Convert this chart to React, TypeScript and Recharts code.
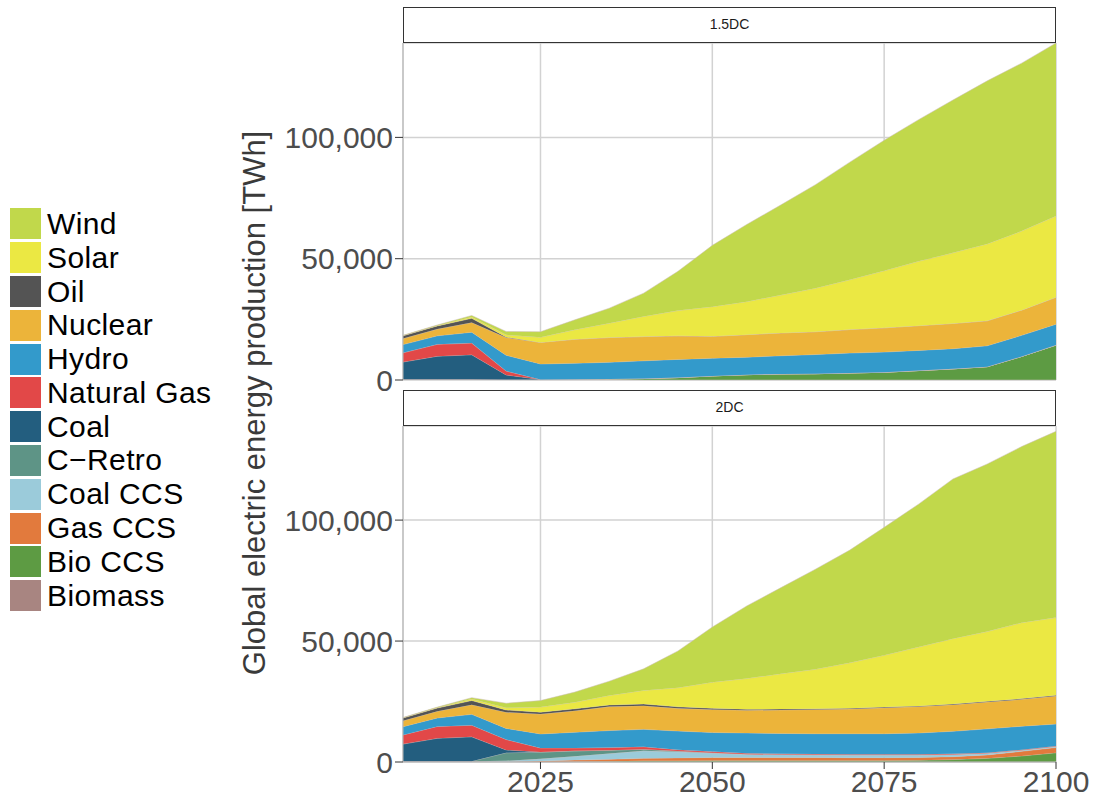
import { AreaChart, Area, XAxis, YAxis, CartesianGrid } from 'recharts'

// Global electricity generation by source, TWh, two climate scenarios
const years = [2005, 2010, 2015, 2020, 2025, 2030, 2035, 2040, 2045, 2050, 2055, 2060, 2065, 2070, 2075, 2080, 2085, 2090, 2095, 2100]
const yearTicks = [2025, 2050, 2075, 2100]
const valueTicks = [0, 50000, 100000]

// 1.5DC scenario
const biomass15 = [300, 300, 300, 200, 100, 100, 100, 100, 100, 100, 100, 100, 100, 100, 100, 100, 100, 100, 100, 100]
const bioCcs15 = [0, 0, 0, 0, 100, 200, 300, 500, 900, 1600, 2100, 2400, 2500, 2800, 3100, 3800, 4500, 5400, 9600, 14300]
const gasCcs15 = [0, 0, 0, 0, 0, 0, 0, 0, 0, 0, 0, 0, 0, 0, 0, 0, 0, 0, 0, 0]
const coalCcs15 = [0, 0, 0, 0, 0, 0, 0, 0, 0, 0, 0, 0, 0, 0, 0, 0, 0, 0, 0, 0]
const cRetro15 = [0, 0, 0, 0, 0, 0, 0, 0, 0, 0, 0, 0, 0, 0, 0, 0, 0, 0, 0, 0]
const coal15 = [7100, 9500, 10100, 1900, 0, 0, 0, 0, 0, 0, 0, 0, 0, 0, 0, 0, 0, 0, 0, 0]
const gas15 = [3800, 4900, 4800, 1600, 0, 0, 0, 0, 0, 0, 0, 0, 0, 0, 0, 0, 0, 0, 0, 0]
const hydro15 = [3400, 3500, 4500, 6500, 6400, 6600, 6900, 7300, 7500, 7300, 7200, 7500, 7900, 8200, 8300, 8300, 8300, 8600, 8700, 8600]
const nuclear15 = [2500, 2800, 4000, 7300, 8900, 9900, 10200, 10000, 9700, 9000, 9300, 9400, 9400, 9700, 10000, 10200, 10400, 10300, 10400, 11100]
const oil15 = [1100, 1300, 1700, 200, 0, 0, 0, 0, 0, 0, 0, 0, 0, 0, 0, 0, 0, 0, 0, 0]
const solar15 = [100, 200, 600, 900, 2100, 3900, 5900, 8300, 10400, 12200, 13600, 15600, 17900, 20500, 23500, 26500, 29100, 31700, 32600, 33500]
const wind15 = [100, 200, 600, 1400, 2300, 4100, 6200, 9600, 16200, 25300, 31800, 37200, 42700, 48500, 53800, 58400, 63000, 67200, 69200, 71300]

// 2DC scenario
const biomass2 = [300, 300, 300, 200, 100, 100, 100, 100, 100, 100, 100, 100, 100, 100, 100, 100, 100, 100, 100, 100]
const bioCcs2 = [0, 0, 0, 0, 0, 100, 200, 400, 400, 500, 500, 500, 500, 500, 500, 600, 900, 1400, 2400, 3700]
const gasCcs2 = [0, 0, 0, 0, 300, 600, 800, 1000, 1200, 1300, 1300, 1300, 1300, 1200, 1200, 1200, 1200, 1400, 1900, 2200]
const coalCcs2 = [0, 0, 0, 300, 900, 1600, 2400, 3100, 2500, 1800, 1300, 1200, 1100, 1100, 1100, 1000, 900, 700, 500, 400]
const cRetro2 = [0, 0, 0, 3300, 2800, 2200, 1400, 700, 300, 100, 0, 0, 0, 0, 0, 0, 0, 0, 0, 0]
const coal2 = [7100, 9500, 10100, 1200, 0, 0, 0, 0, 0, 0, 0, 0, 0, 0, 0, 0, 0, 0, 0, 0]
const gas2 = [3800, 4900, 4800, 4300, 1700, 1200, 1100, 1000, 600, 500, 400, 300, 300, 300, 300, 300, 300, 200, 200, 200]
const hydro2 = [3400, 3500, 4500, 4600, 5800, 6500, 7000, 7200, 7700, 7900, 8400, 8400, 8400, 8500, 8500, 8800, 9300, 9900, 9700, 9100]
const nuclear2 = [2500, 2800, 4000, 6700, 8200, 8900, 9900, 9800, 9400, 9500, 9400, 9700, 10000, 10200, 10700, 10900, 11000, 11100, 11100, 11600]
const oil2 = [1100, 1300, 1700, 900, 800, 800, 700, 700, 600, 500, 400, 400, 300, 300, 300, 300, 300, 300, 300, 300]
const solar2 = [100, 200, 600, 900, 2100, 2700, 3900, 5600, 7900, 10800, 12700, 14600, 16300, 18800, 21400, 24300, 27000, 28800, 31400, 32100]
const wind2 = [100, 200, 600, 1900, 2700, 4200, 5900, 8900, 15200, 22800, 30000, 35600, 41400, 46600, 52900, 59100, 66000, 69300, 72800, 77000]

// stacking order, bottom first
const sources = [
  { key: 'Biomass', color: '#A88581' },
  { key: 'Bio CCS', color: '#5D9B43' },
  { key: 'Gas CCS', color: '#E27A3D' },
  { key: 'Coal CCS', color: '#9BCBDA' },
  { key: 'C\u2212Retro', color: '#5E9486' },
  { key: 'Coal', color: '#235E7F' },
  { key: 'Natural Gas', color: '#E24848' },
  { key: 'Hydro', color: '#339ACB' },
  { key: 'Nuclear', color: '#ECB43A' },
  { key: 'Oil', color: '#545454' },
  { key: 'Solar', color: '#EBE843' },
  { key: 'Wind', color: '#C1D84B' },
]

function buildRows(series: number[][]) {
  return years.map((year, i) => {
    const row: Record<string, number> = { year }
    sources.forEach((s, j) => {
      row[s.key] = series[j][i]
    })
    return row
  })
}

const data15 = buildRows([biomass15, bioCcs15, gasCcs15, coalCcs15, cRetro15, coal15, gas15, hydro15, nuclear15, oil15, solar15, wind15])
const data2 = buildRows([biomass2, bioCcs2, gasCcs2, coalCcs2, cRetro2, coal2, gas2, hydro2, nuclear2, oil2, solar2, wind2])

const totals = [...data15, ...data2].map((r) => sources.reduce((sum, s) => sum + r[s.key], 0))
const yMax = Math.max(...totals)

const font = '"Liberation Sans", Arial, Helvetica, sans-serif'
const axisGray = '#4d4d4d'

// plotTop/plotBottom are measured inside the chart's own svg
function Panel({ data, showX, height, top, bottomPad }: { data: Record<string, number>[]; showX: boolean; height: number; top: number; bottomPad: number }) {
  return (
    <div style={{ position: 'absolute', left: 0, top }}>
      <AreaChart width={1093} height={height} data={data} margin={{ top: 43, right: 37, bottom: bottomPad, left: 303 }}>
        <CartesianGrid stroke="#d2d2d2" strokeWidth={1.5} />
        <XAxis
          dataKey="year"
          type="number"
          domain={[2005, 2100]}
          ticks={yearTicks}
          height={showX ? 40 : 0}
          tick={showX ? { fontSize: 30, fill: axisGray } : { fontSize: 1, fill: 'none' }}
          tickSize={showX ? 7 : 0}
          tickLine={showX ? { stroke: '#333' } : false}
          axisLine={showX ? { stroke: '#b5b5b5' } : false}
        />
        <YAxis
          type="number"
          domain={[0, yMax]}
          ticks={valueTicks}
          width={100}
          tickSize={8}
          tick={{ fontSize: 30, fill: axisGray }}
          tickLine={{ stroke: '#333' }}
          axisLine={{ stroke: '#b5b5b5' }}
          tickFormatter={(v: number) => v.toLocaleString('en-US')}
        />
        {sources.map((s) => (
          <Area
            key={s.key}
            type="linear"
            dataKey={s.key}
            stackId="1"
            fill={s.color}
            fillOpacity={1}
            stroke="#cdbdbb"
            strokeWidth={0.5}
            dot={false}
            activeDot={false}
            isAnimationActive={false}
          />
        ))}
      </AreaChart>
    </div>
  )
}

function Strip({ label, top }: { label: string; top: number }) {
  return (
    <div
      style={{
        position: 'absolute',
        left: 403,
        top,
        width: 653,
        height: 36,
        boxSizing: 'border-box',
        border: '1.5px solid #333',
        background: '#fff',
        fontSize: 14,
        lineHeight: '33px',
        textAlign: 'center',
        color: '#1a1a1a',
      }}
    >
      {label}
    </div>
  )
}

export default function App() {
  const legendItems = [...sources].reverse()
  return (
    <div style={{ position: 'absolute', left: 0, top: 0, width: 1093, height: 802, background: '#fff', fontFamily: font }}>
      <Panel data={data15} showX={false} height={400} top={0} bottomPad={20} />
      <Panel data={data2} showX={true} height={419} top={383} bottomPad={0} />
      <Strip label="1.5DC" top={7} />
      <Strip label="2DC" top={390} />
      <div
        style={{
          position: 'absolute',
          left: 255 - 320,
          top: 403 - 18,
          width: 640,
          height: 36,
          lineHeight: '36px',
          textAlign: 'center',
          fontSize: 31,
          color: '#3a3a3a',
          transform: 'rotate(-90deg)',
          whiteSpace: 'nowrap',
        }}
      >
        Global electric energy production [TWh]
      </div>
      <div style={{ position: 'absolute', left: 10, top: 207 }}>
        {legendItems.map((s) => (
          <div key={s.key} style={{ display: 'flex', alignItems: 'center', height: 33.8 }}>
            <div style={{ width: 31, height: 31, background: s.color }} />
            <span style={{ marginLeft: 6, fontSize: 30, letterSpacing: 0.4, color: '#000', whiteSpace: 'nowrap' }}>{s.key}</span>
          </div>
        ))}
      </div>
    </div>
  )
}
